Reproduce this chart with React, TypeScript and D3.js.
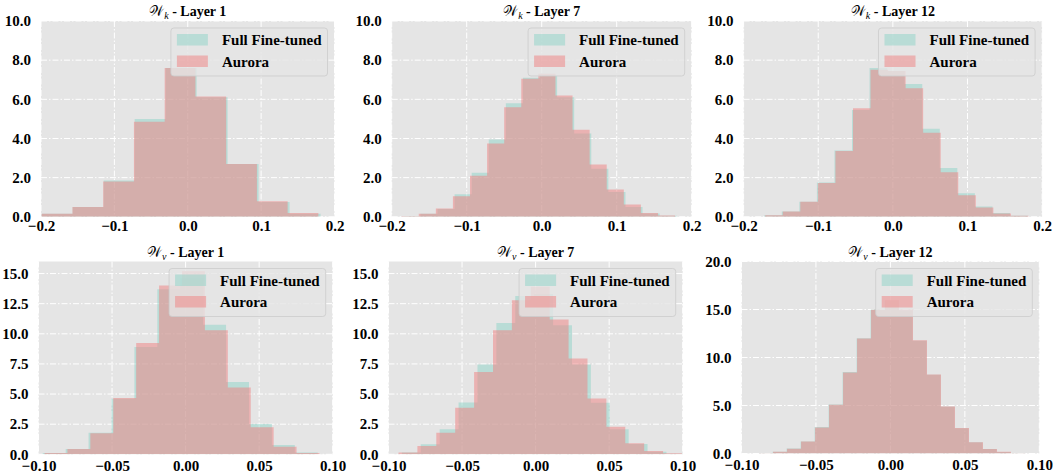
import * as d3 from "d3";
import { useEffect, useRef } from "react";

// density of each histogram bin
// W_k, layer 1
const kLayer1Full = [0.15, 0.5, 1.85, 5.0, 7.6, 6.1, 2.7, 0.75, 0.15];
const kLayer1Aurora = [0.15, 0.5, 1.8, 4.85, 7.6, 6.15, 2.7, 0.8, 0.2];
const kLayer1FullRange = [-0.199, 0.181];
const kLayer1AuroraRange = [-0.199, 0.178];

// W_k, layer 7
const kLayer7Full = [0.03, 0.15, 0.4, 1.15, 2.25, 3.95, 5.8, 7.1, 7.2, 6.1, 4.25, 2.45, 1.27, 0.5, 0.17, 0.06];
const kLayer7Aurora = [0.03, 0.15, 0.42, 1.05, 2.1, 3.75, 5.6, 7.05, 7.3, 6.2, 4.45, 2.67, 1.4, 0.63, 0.2, 0.07];
const kLayer7FullRange = [-0.1845, 0.18];
const kLayer7AuroraRange = [-0.1867, 0.1778];

// W_k, layer 12
const kLayer12Full = [0.08, 0.27, 0.77, 1.75, 3.38, 5.45, 7.6, 7.45, 6.78, 4.5, 2.49, 1.2, 0.53, 0.19, 0.05];
const kLayer12Aurora = [0.08, 0.27, 0.77, 1.72, 3.36, 5.54, 7.51, 7.45, 6.57, 4.29, 2.28, 1.1, 0.48, 0.17, 0.05];
const kLayer12FullRange = [-0.1723, 0.1805];
const kLayer12AuroraRange = [-0.171, 0.1817];

// W_v, layer 1
const vLayer1Full = [0.11, 0.44, 1.78, 4.6, 8.9, 13.7, 14.6, 10.76, 5.99, 2.51, 0.77, 0.14];
const vLayer1Aurora = [0.11, 0.44, 1.74, 4.68, 9.24, 14.0, 15.2, 10.3, 5.55, 2.24, 0.63, 0.11];
const vLayer1FullRange = [-0.0971, 0.0898];
const vLayer1AuroraRange = [-0.0959, 0.091];

// W_v, layer 7
const vLayer7Full = [0.14, 0.83, 2.07, 4.3, 7.45, 10.9, 13.13, 13.3, 10.7, 7.45, 4.28, 2.07, 0.86, 0.22, 0.05];
const vLayer7Aurora = [0.14, 0.69, 1.79, 3.86, 6.84, 10.29, 12.78, 13.9, 11.18, 7.95, 4.64, 2.29, 0.91, 0.28, 0.08];
const vLayer7FullRange = [-0.0909, 0.1018];
const vLayer7AuroraRange = [-0.0932, 0.0995];

// W_v, layer 12
const vLayer12Full = [0.03, 0.17, 0.52, 1.26, 2.75, 5.1, 8.5, 12.0, 15.0, 15.9, 14.9, 11.75, 8.2, 4.88, 2.64, 1.16, 0.47, 0.16, 0.03];
const vLayer12Aurora = [0.03, 0.17, 0.5, 1.24, 2.72, 5.07, 8.45, 11.97, 14.97, 16.0, 15.0, 11.79, 8.24, 4.9, 2.66, 1.17, 0.48, 0.17, 0.03];
const vLayer12FullRange = [-0.0885, 0.0901];
const vLayer12AuroraRange = [-0.0882, 0.0904];

const seriesNames = ["Full Fine-tuned", "Aurora"];
const seriesColors = ["#8dd3c7", "#f08080"];

const kXTicks = [-0.2, -0.1, 0, 0.1, 0.2];
const vXTicks = [-0.1, -0.05, 0, 0.05, 0.1];
const kYTicks = [0, 2, 4, 6, 8, 10];
const vYTicks = [0, 2.5, 5, 7.5, 10, 12.5, 15];
const v12YTicks = [0, 5, 10, 15, 20];

const FONT = "'Liberation Serif', 'Times New Roman', serif";

// box = [left, right, top, bottom] in px
const panels = [
  { mat: "k", layer: 1, full: kLayer1Full, fullRange: kLayer1FullRange, aurora: kLayer1Aurora, auroraRange: kLayer1AuroraRange,
    xDomain: [-0.2, 0.2], xTicks: kXTicks, xFmt: ".1f", yMax: 10, yTicks: kYTicks, box: [41, 334.5, 21, 216.8], xPad: 4 },
  { mat: "k", layer: 7, full: kLayer7Full, fullRange: kLayer7FullRange, aurora: kLayer7Aurora, auroraRange: kLayer7AuroraRange,
    xDomain: [-0.2, 0.2], xTicks: kXTicks, xFmt: ".1f", yMax: 10, yTicks: kYTicks, box: [391.7, 691.7, 21, 216.8], xPad: 4 },
  { mat: "k", layer: 12, full: kLayer12Full, fullRange: kLayer12FullRange, aurora: kLayer12Aurora, auroraRange: kLayer12AuroraRange,
    xDomain: [-0.2, 0.2], xTicks: kXTicks, xFmt: ".1f", yMax: 10, yTicks: kYTicks, box: [743.6, 1042.1, 21, 216.8], xPad: 4 },
  { mat: "v", layer: 1, full: vLayer1Full, fullRange: vLayer1FullRange, aurora: vLayer1Aurora, auroraRange: vLayer1AuroraRange,
    xDomain: [-0.1, 0.1], xTicks: vXTicks, xFmt: ".2f", yMax: 16, yTicks: vYTicks, box: [38.5, 332.7, 261.5, 454.3], xPad: 6 },
  { mat: "v", layer: 7, full: vLayer7Full, fullRange: vLayer7FullRange, aurora: vLayer7Aurora, auroraRange: vLayer7AuroraRange,
    xDomain: [-0.1, 0.1], xTicks: vXTicks, xFmt: ".2f", yMax: 16, yTicks: vYTicks, box: [388.5, 682.7, 261.5, 454.3], xPad: 6 },
  { mat: "v", layer: 12, full: vLayer12Full, fullRange: vLayer12FullRange, aurora: vLayer12Aurora, auroraRange: vLayer12AuroraRange,
    xDomain: [-0.1, 0.1], xTicks: vXTicks, xFmt: ".2f", yMax: 20, yTicks: v12YTicks, box: [741.5, 1039.3, 261.5, 453.5], xPad: 6 },
];

const App = () => {
  const chartRef = useRef(null);

  useEffect(() => {
    const svg = d3.select(chartRef.current);
    svg.selectAll("*").remove();

    panels.forEach((p, pi) => {
      const [left, right, top, bottom] = p.box;
      const x = d3.scaleLinear().domain(p.xDomain).range([left, right]);
      const y = d3.scaleLinear().domain([0, p.yMax]).range([bottom, top]);
      const g = svg.append("g");

      const clipId = `clip-${pi}`;
      g.append("clipPath").attr("id", clipId)
        .append("rect")
        .attr("x", left).attr("y", top)
        .attr("width", right - left).attr("height", bottom - top);

      g.append("rect")
        .attr("x", left).attr("y", top)
        .attr("width", right - left).attr("height", bottom - top)
        .attr("fill", "#e5e5e5");

      // grid
      g.append("g").selectAll("line").data(p.xTicks).join("line")
        .attr("x1", d => x(d)).attr("x2", d => x(d))
        .attr("y1", top).attr("y2", bottom)
        .attr("stroke", "#fff").attr("stroke-width", 1)
        .attr("stroke-dasharray", "6,2,1.5,2");
      g.append("g").selectAll("line").data(p.yTicks).join("line")
        .attr("x1", left).attr("x2", right)
        .attr("y1", d => y(d)).attr("y2", d => y(d))
        .attr("stroke", "#fff").attr("stroke-width", 1)
        .attr("stroke-dasharray", "6,2,1.5,2");

      // histograms, drawn as step areas over the bin edges
      const series = [[p.full, p.fullRange], [p.aurora, p.auroraRange]];
      series.forEach(([vals, range], si) => {
        const w = (range[1] - range[0]) / vals.length;
        const pts = vals.map((v, i) => [range[0] + i * w, v]);
        pts.push([range[1], vals[vals.length - 1]]);
        const area = d3.area()
          .x(d => x(d[0]))
          .y0(y(0))
          .y1(d => y(d[1]))
          .curve(d3.curveStepAfter);
        g.append("path")
          .attr("clip-path", `url(#${clipId})`)
          .attr("d", area(pts))
          .attr("fill", seriesColors[si])
          .attr("fill-opacity", 0.5);
      });

      // axes
      const xAxis = d3.axisBottom(x)
        .tickValues(p.xTicks)
        .tickFormat(d3.format(p.xFmt))
        .tickSize(0)
        .tickPadding(p.xPad);
      const xg = g.append("g").attr("transform", `translate(0,${bottom})`).call(xAxis);
      xg.select(".domain").remove();
      xg.selectAll("text")
        .attr("font-family", FONT).attr("font-weight", "bold")
        .attr("font-size", 15).attr("fill", "#000");

      const yAxis = d3.axisLeft(y)
        .tickValues(p.yTicks)
        .tickFormat(d3.format(".1f"))
        .tickSize(0)
        .tickPadding(10);
      const yg = g.append("g").attr("transform", `translate(${left},0)`).call(yAxis);
      yg.select(".domain").remove();
      yg.selectAll("text")
        .attr("font-family", FONT).attr("font-weight", "bold")
        .attr("font-size", 15).attr("fill", "#000");

      // title
      const title = g.append("text")
        .attr("x", (left + right) / 2)
        .attr("y", top - 5)
        .attr("text-anchor", "middle")
        .attr("font-family", FONT)
        .attr("font-size", 14)
        .attr("fill", "#000");
      title.append("tspan").attr("font-family", "'DejaVu Serif', serif").text("𝒲");
      title.append("tspan").attr("font-style", "italic").attr("font-size", 10).attr("dy", 3).text(p.mat);
      title.append("tspan").attr("font-weight", "bold").attr("dy", -3).text(" - Layer " + p.layer);

      // legend
      const lg = g.append("g");
      const bg = lg.append("rect");
      const texts = seriesNames.map((name, i) => {
        lg.append("rect")
          .attr("x", 6).attr("y", 6 + i * 21.5)
          .attr("width", 31).attr("height", 11.5)
          .attr("fill", seriesColors[i]).attr("fill-opacity", 0.5);
        return lg.append("text")
          .attr("x", 51).attr("y", 17 + i * 21.5)
          .attr("font-family", FONT).attr("font-weight", "bold")
          .attr("font-size", 15).attr("fill", "#000")
          .text(name);
      });
      const tw = d3.max(texts, t => t.node().getComputedTextLength());
      const lw = 51 + tw + 6;
      const lh = 48;
      bg.attr("width", lw).attr("height", lh).attr("rx", 3)
        .attr("fill", "#e5e5e5").attr("fill-opacity", 0.8)
        .attr("stroke", "#cccccc").attr("stroke-opacity", 0.8);
      lg.attr("transform", `translate(${right - 7 - lw},${top + 7})`);
    });
  }, []);

  return (
    <svg
      ref={chartRef}
      width={1053}
      height={473}
      style={{ position: "absolute", left: 0, top: 0, background: "#fff" }}
    ></svg>
  );
};

export default App;
